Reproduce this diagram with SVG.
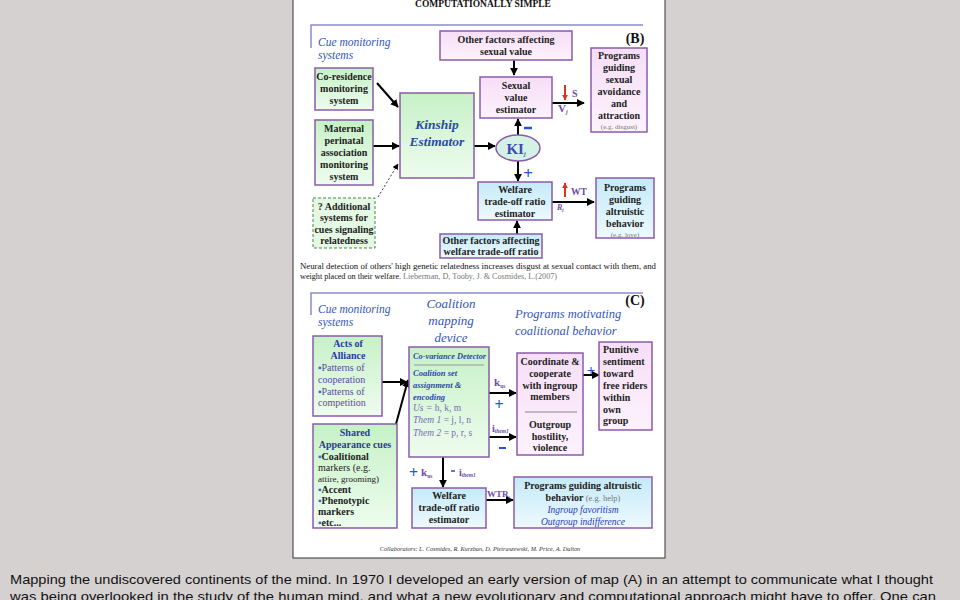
<svg xmlns="http://www.w3.org/2000/svg" width="960" height="600" viewBox="0 0 960 600">
<defs>
<linearGradient id="gG" x1="0" y1="0" x2="0" y2="1"><stop offset="0" stop-color="#c6f1c6"/><stop offset="1" stop-color="#eefcee"/></linearGradient>
<linearGradient id="gP" x1="0" y1="0" x2="0" y2="1"><stop offset="0" stop-color="#f6def6"/><stop offset="1" stop-color="#fdf2fd"/></linearGradient>
<linearGradient id="gB" x1="0" y1="0" x2="0" y2="1"><stop offset="0" stop-color="#c4eaf8"/><stop offset="1" stop-color="#eef9fe"/></linearGradient>
<marker id="ah" viewBox="0 0 10 10" refX="9" refY="5" markerWidth="8" markerHeight="8" markerUnits="userSpaceOnUse" orient="auto"><path d="M0,0 L10,5 L0,10 z" fill="#000"/></marker>
<marker id="ahs" viewBox="0 0 10 10" refX="9" refY="5" markerWidth="6" markerHeight="6" markerUnits="userSpaceOnUse" orient="auto"><path d="M0,0 L10,5 L0,10 z" fill="#000"/></marker>
<marker id="ahr" viewBox="0 0 10 10" refX="9" refY="5" markerWidth="6" markerHeight="6" markerUnits="userSpaceOnUse" orient="auto"><path d="M0,0 L10,5 L0,10 z" fill="#e03020"/></marker>
<style>
.t{font-family:"Liberation Serif","DejaVu Serif",serif;font-size:10px;font-weight:bold;fill:#222}
.c{text-anchor:middle}
.bx{stroke:#8a5ca8;stroke-width:1.5}
.g{fill:url(#gG)}
.p{fill:url(#gP)}
.b{fill:url(#gB)}
.hd{font-family:"Liberation Serif","DejaVu Serif",serif;font-style:italic;fill:#3355bb}
.ln{stroke:#000;stroke-width:2;fill:none}
.pu{fill:#6a4aa8}
.bl{fill:#2255dd}
.sm{font-size:7px;font-weight:normal;fill:#777}
.cap{font-family:"Liberation Sans","Arial",sans-serif;font-size:13.5px;fill:#111}
</style>
</defs>
<rect x="0" y="0" width="960" height="600" fill="#d5d1d1"/>
<rect x="293" y="-2" width="372" height="560" fill="#ffffff" stroke="#333" stroke-width="1"/>
<text x="483" y="7" class="t c" style="font-size:9.5px;fill:#111">COMPUTATIONALLY SIMPLE</text>

<!-- Panel B frame -->
<path d="M311,48 V25 H643" stroke="#8a8acc" stroke-width="1.5" fill="none"/>
<text x="318" y="46" class="hd" style="font-size:11.5px">Cue monitoring</text>
<text x="318" y="59" class="hd" style="font-size:11.5px">systems</text>
<text x="635" y="43" class="t c" style="font-size:14px;fill:#111">(B)</text>

<g id="connectors">
<line x1="514" y1="60" x2="514" y2="75" class="ln" marker-end="url(#ah)"/>
<line x1="377" y1="83" x2="398" y2="107" class="ln" marker-end="url(#ah)"/>
<line x1="373" y1="146" x2="399" y2="146" class="ln" marker-end="url(#ah)"/>
<line x1="378" y1="197" x2="398" y2="164" stroke="#333" stroke-width="1" stroke-dasharray="2,2" marker-end="url(#ahs)"/>
<line x1="474" y1="146" x2="495" y2="146" class="ln" marker-end="url(#ah)"/>
<line x1="518" y1="135" x2="518" y2="119" class="ln" marker-end="url(#ah)"/>
<line x1="518" y1="161" x2="518" y2="181" class="ln" marker-end="url(#ah)"/>
<line x1="552" y1="103" x2="584" y2="103" class="ln" marker-end="url(#ah)"/>
<line x1="552" y1="202" x2="594" y2="202" class="ln" marker-end="url(#ah)"/>
<line x1="517" y1="235" x2="517" y2="221" class="ln" marker-end="url(#ah)"/>
<line x1="382" y1="382" x2="407" y2="382" class="ln" marker-end="url(#ah)"/>
<line x1="396" y1="424" x2="408" y2="380" class="ln" marker-end="url(#ah)"/>
<line x1="489" y1="393" x2="516" y2="393" class="ln" marker-end="url(#ah)"/>
<line x1="489" y1="437" x2="516" y2="437" class="ln" marker-end="url(#ah)"/>
<line x1="583" y1="375" x2="599" y2="375" class="ln" marker-end="url(#ah)"/>
<line x1="443" y1="457" x2="443" y2="487" class="ln" marker-end="url(#ah)"/>
<line x1="486" y1="500" x2="513" y2="500" class="ln" marker-end="url(#ah)"/>
<line x1="446" y1="365" x2="446" y2="383" stroke="#000" stroke-width="1.5" marker-end="url(#ahs)"/>
</g>

<g id="other-sexual">
<rect x="440" y="31" width="132" height="29" class="bx p"/>
<text x="506" y="43" class="t c">Other factors affecting</text>
<text x="506" y="55" class="t c">sexual value</text>
</g>
<g id="sexual-value">
<rect x="480" y="77" width="72" height="41" class="bx p"/>
<text x="516" y="89" class="t c">Sexual</text>
<text x="516" y="101" class="t c">value</text>
<text x="516" y="113" class="t c">estimator</text>
</g>
<g id="s-label">
<line x1="565" y1="85" x2="565" y2="100" stroke="#e03020" stroke-width="2" marker-end="url(#ahr)"/>
<text x="572" y="97" class="t pu" style="font-size:10px">S</text>
<text x="558" y="112" class="t pu" style="font-size:11px">V<tspan style="font-size:6px;font-style:italic" dy="2">j</tspan></text>
</g>
<g id="programs-sexual">
<rect x="591" y="48" width="56" height="84" class="bx p"/>
<text x="619" y="59" class="t c">Programs</text>
<text x="619" y="71" class="t c">guiding</text>
<text x="619" y="83" class="t c">sexual</text>
<text x="619" y="95" class="t c">avoidance</text>
<text x="619" y="107" class="t c">and</text>
<text x="619" y="119" class="t c">attraction</text>
<text x="619" y="129" class="t c sm">(e.g. disgust)</text>
</g>
<g id="coresidence">
<rect x="315" y="68" width="58" height="42" class="bx g"/>
<text x="344" y="80" class="t c">Co-residence</text>
<text x="344" y="92" class="t c">monitoring</text>
<text x="344" y="104" class="t c">system</text>
</g>
<g id="maternal">
<rect x="315" y="120" width="58" height="65" class="bx g"/>
<text x="344" y="132" class="t c">Maternal</text>
<text x="344" y="144" class="t c">perinatal</text>
<text x="344" y="156" class="t c">association</text>
<text x="344" y="168" class="t c">monitoring</text>
<text x="344" y="180" class="t c">system</text>
</g>
<g id="additional">
<rect x="313" y="198" width="62" height="50" fill="#e4f8e4" stroke="#448844" stroke-width="1" stroke-dasharray="3,2"/>
<text x="344" y="210" class="t c">? Additional</text>
<text x="344" y="221" class="t c">systems for</text>
<text x="344" y="233" class="t c">cues signaling</text>
<text x="344" y="244" class="t c">relatedness</text>
</g>
<g id="kinship">
<rect x="400" y="93" width="74" height="85" class="bx g"/>
<text x="437" y="129" class="hd c" style="font-weight:bold;font-size:13.5px;fill:#2a4aa8">Kinship</text>
<text x="437" y="146" class="hd c" style="font-weight:bold;font-size:13.5px;fill:#2a4aa8">Estimator</text>
</g>
<g id="ki">
<ellipse cx="518" cy="148" rx="22" ry="13" fill="#d4f2e4" stroke="#8a5ca8" stroke-width="1.5"/>
<text x="516" y="154" class="t c" style="font-size:15px;fill:#3a4ab8">KI<tspan style="font-size:6px;font-style:italic" dy="2">j</tspan></text>
<line x1="524" y1="128" x2="532" y2="128" stroke="#2255dd" stroke-width="2.5"/>
<text x="528" y="179" class="t c bl" style="font-size:17px">+</text>
</g>
<g id="welfare-b">
<rect x="478" y="182" width="74" height="38" class="bx b"/>
<text x="515" y="193" class="t c">Welfare</text>
<text x="515" y="205" class="t c">trade-off ratio</text>
<text x="515" y="217" class="t c">estimator</text>
</g>
<g id="wt-label">
<line x1="565" y1="197" x2="565" y2="183" stroke="#e03020" stroke-width="2" marker-end="url(#ahr)"/>
<text x="571" y="195" class="t pu" style="font-size:9.5px">WT</text>
<text x="557" y="210" class="t pu" style="font-size:8px;font-style:italic">R<tspan style="font-size:5px" dy="1">j</tspan></text>
</g>
<g id="programs-altruistic">
<rect x="596" y="178" width="58" height="60" class="bx b"/>
<text x="625" y="191" class="t c">Programs</text>
<text x="625" y="203" class="t c">guiding</text>
<text x="625" y="215" class="t c">altruistic</text>
<text x="625" y="227" class="t c">behavior</text>
<text x="625" y="237" class="t c sm">(e.g. love)</text>
</g>
<g id="other-welfare">
<rect x="440" y="234" width="102" height="24" class="bx b"/>
<text x="491" y="244" class="t c">Other factors affecting</text>
<text x="491" y="255" class="t c">welfare trade-off ratio</text>
</g>
<text x="300" y="269" class="t" style="font-size:8px;font-weight:normal;fill:#111" textLength="356" lengthAdjust="spacingAndGlyphs">Neural detection of others' high genetic relatedness increases disgust at sexual contact with them, and</text>
<text x="300" y="279" class="t" style="font-size:8px;font-weight:normal;fill:#111" textLength="257" lengthAdjust="spacingAndGlyphs">weight placed on their welfare.  <tspan style="fill:#777">Lieberman, D, Tooby, J. &amp; Cosmides, L.(2007)</tspan></text>

<!-- Panel C -->
<path d="M311,315 V293 H643" stroke="#8a8acc" stroke-width="1.5" fill="none"/>
<text x="318" y="313" class="hd" style="font-size:11.5px">Cue monitoring</text>
<text x="318" y="326" class="hd" style="font-size:11.5px">systems</text>
<text x="451" y="308" class="hd c" style="font-size:13px">Coalition</text>
<text x="451" y="325" class="hd c" style="font-size:13px">mapping</text>
<text x="451" y="342" class="hd c" style="font-size:13px">device</text>
<text x="515" y="318" class="hd" style="font-size:12.5px">Programs motivating</text>
<text x="515" y="335" class="hd" style="font-size:12.5px">coalitional behavior</text>
<text x="635" y="305" class="t c" style="font-size:14px;fill:#111">(C)</text>

<g id="acts">
<rect x="313" y="336" width="69" height="80" class="bx g"/>
<text x="348" y="347" class="t c" style="fill:#2a3a9a">Acts of</text>
<text x="348" y="359" class="t c" style="fill:#2a3a9a">Alliance</text>
<text x="318" y="371" class="t" style="font-weight:normal;fill:#5a4aa0"><tspan style="fill:#3366dd">▪</tspan>Patterns of</text>
<text x="318" y="383" class="t" style="font-weight:normal;fill:#5a4aa0">cooperation</text>
<text x="318" y="395" class="t" style="font-weight:normal;fill:#5a4aa0"><tspan style="fill:#3366dd">▪</tspan>Patterns of</text>
<text x="318" y="406" class="t" style="font-weight:normal;fill:#5a4aa0">competition</text>
</g>
<g id="shared">
<rect x="313" y="424" width="84" height="104" class="bx g"/>
<text x="355" y="436" class="t c" style="fill:#2a3a9a">Shared</text>
<text x="355" y="448" class="t c" style="fill:#2a3a9a">Appearance cues</text>
<text x="318" y="460" class="t"><tspan style="fill:#3366dd">▪</tspan>Coalitional</text>
<text x="318" y="471" class="t" style="font-weight:normal">markers (e.g.</text>
<text x="318" y="482" class="t" style="font-weight:normal;font-size:9px">attire, grooming)</text>
<text x="318" y="493" class="t"><tspan style="fill:#3366dd">▪</tspan>Accent</text>
<text x="318" y="504" class="t"><tspan style="fill:#3366dd">▪</tspan>Phenotypic</text>
<text x="318" y="515" class="t">markers</text>
<text x="318" y="526" class="t"><tspan style="fill:#3366dd">▪</tspan>etc...</text>
</g>
<g id="detector">
<rect x="409" y="347" width="80" height="110" class="bx g"/>
<text x="413" y="359" class="hd" style="font-weight:bold;font-size:8.3px;fill:#2a4aa8">Co-variance Detector</text>
<line x1="414" y1="365" x2="484" y2="365" stroke="#999" stroke-width="1"/>
<text x="413" y="376" class="hd" style="font-weight:bold;font-size:8.5px;fill:#2a4aa8">Coalition set</text>
<text x="413" y="388" class="hd" style="font-weight:bold;font-size:8.5px;fill:#2a4aa8">assignment &amp;</text>
<text x="413" y="400" class="hd" style="font-weight:bold;font-size:8.5px;fill:#2a4aa8">encoding</text>
<text x="413" y="411" class="t" style="font-weight:normal;fill:#7a6ab8;font-size:9.5px"><tspan style="font-style:italic">Us = </tspan> h, k, m</text>
<text x="413" y="423" class="t" style="font-weight:normal;fill:#7a6ab8;font-size:9.5px"><tspan style="font-style:italic">Them 1</tspan> = j, l, n</text>
<text x="413" y="436" class="t" style="font-weight:normal;fill:#7a6ab8;font-size:9.5px"><tspan style="font-style:italic">Them 2</tspan> = p, r, s</text>
</g>
<g id="det-labels">
<text x="494" y="386" class="t pu" style="font-size:11px">k<tspan style="font-size:5.5px" dy="2">us</tspan></text>
<text x="499" y="410" class="t c bl" style="font-size:16px">+</text>
<text x="492" y="432" class="t pu" style="font-size:10px">i<tspan style="font-size:5.5px;font-style:italic" dy="1">them1</tspan></text>
<line x1="499" y1="448" x2="506" y2="448" stroke="#2255dd" stroke-width="2"/>
<text x="591" y="375" class="t c bl" style="font-size:15px">+</text>
<text x="409" y="478" class="t bl" style="font-size:16px">+</text>
<text x="421" y="476" class="t pu" style="font-size:11px">k<tspan style="font-size:5.5px" dy="2">us</tspan></text>
<line x1="451" y1="471" x2="455" y2="471" stroke="#2255dd" stroke-width="1.5"/>
<text x="459" y="476" class="t pu" style="font-size:10px">i<tspan style="font-size:5.5px;font-style:italic" dy="1">them1</tspan></text>
<text x="487" y="497" class="t pu" style="font-size:9px">WTR<tspan style="font-size:5px;font-style:italic" dy="2">i</tspan></text>
</g>
<g id="coordinate">
<rect x="517" y="353" width="66" height="102" class="bx p"/>
<text x="550" y="365" class="t c">Coordinate &amp;</text>
<text x="550" y="377" class="t c">cooperate</text>
<text x="550" y="389" class="t c">with ingroup</text>
<text x="550" y="400" class="t c">members</text>
<line x1="525" y1="412" x2="577" y2="412" stroke="#888" stroke-width="1"/>
<text x="550" y="428" class="t c">Outgroup</text>
<text x="550" y="440" class="t c">hostility,</text>
<text x="550" y="451" class="t c">violence</text>
</g>
<g id="punitive">
<rect x="599" y="342" width="53" height="88" class="bx p"/>
<text x="603" y="353" class="t">Punitive</text>
<text x="603" y="365" class="t">sentiment</text>
<text x="603" y="377" class="t">toward</text>
<text x="603" y="389" class="t">free riders</text>
<text x="603" y="401" class="t">within</text>
<text x="603" y="413" class="t">own</text>
<text x="603" y="424" class="t">group</text>
</g>
<g id="welfare-c">
<rect x="412" y="488" width="74" height="40" class="bx b"/>
<text x="449" y="499" class="t c">Welfare</text>
<text x="449" y="511" class="t c">trade-off ratio</text>
<text x="449" y="523" class="t c">estimator</text>
</g>
<g id="programs-c">
<rect x="514" y="477" width="138" height="51" class="bx b"/>
<text x="583" y="489" class="t c">Programs guiding altruistic</text>
<text x="583" y="501" class="t c">behavior <tspan style="font-weight:normal;fill:#777;font-size:8.5px">(e.g. help)</tspan></text>
<text x="583" y="513" class="hd c" style="font-size:9.5px;fill:#2a3ab8">Ingroup favoritism</text>
<text x="583" y="525" class="hd c" style="font-size:9.5px;fill:#2a3ab8">Outgroup indifference</text>
</g>
<text x="480" y="551" class="hd c" style="font-size:6.3px;fill:#333">Collaborators: L. Cosmides, R. Kurzban, D. Pietraszewski, M. Price, A. Dalton</text>

<text x="10" y="584" class="cap" textLength="923" lengthAdjust="spacingAndGlyphs">Mapping the undiscovered continents of the mind. In 1970 I developed an early version of map (A) in an attempt to communicate what I thought</text>
<text x="10" y="601" class="cap" textLength="926" lengthAdjust="spacingAndGlyphs">was being overlooked in the study of the human mind, and what a new evolutionary and computational approach might have to offer. One can</text>
</svg>
